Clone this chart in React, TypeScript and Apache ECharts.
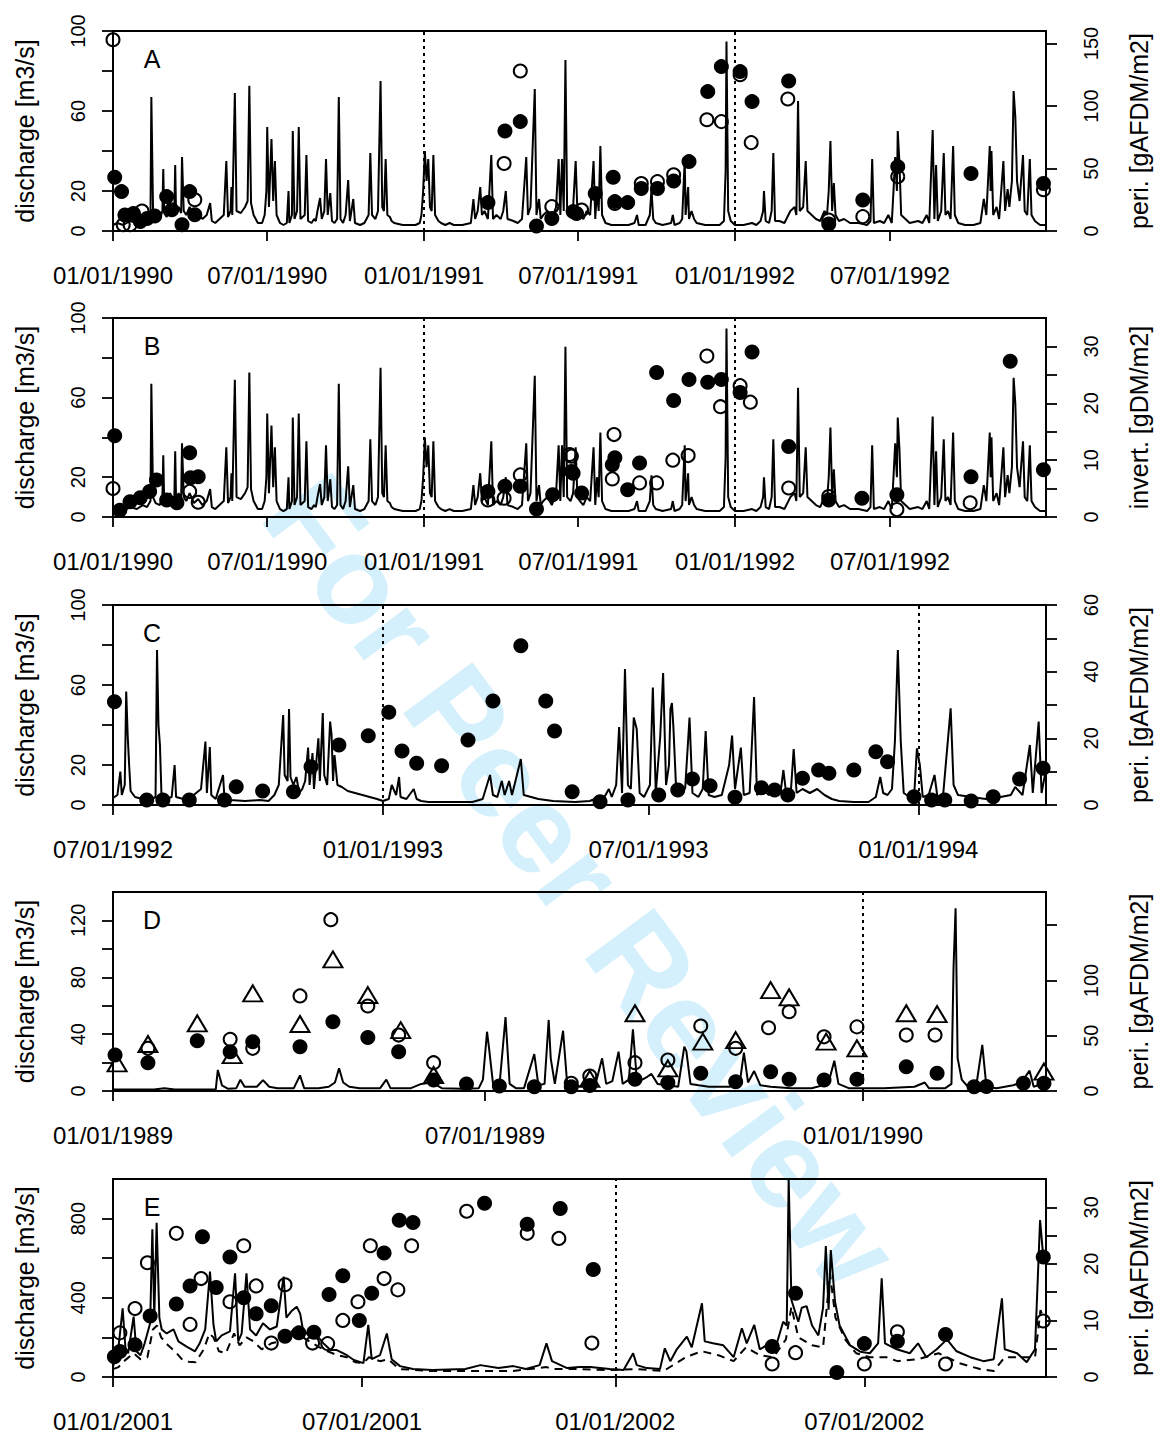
import React, { useEffect, useRef } from "react";
import * as echarts from "echarts";

const FONT = "'Liberation Sans', Arial, Helvetica, sans-serif";
const DAY = 86400000;

// ---------- periods & tick dates ----------
const START_AB = "1990-01-01";
const END_AB = "1992-12-31";
const START_C = "1992-07-01";
const END_C = "1994-03-29";
const START_D = "1989-01-01";
const END_D = "1990-03-31";
const START_E = "2001-01-01";
const END_E = "2002-11-10";

const ticksAB = ["1990-01-01", "1990-07-01", "1991-01-01", "1991-07-01", "1992-01-01", "1992-07-01"];
const ticksC = ["1992-07-01", "1993-01-01", "1993-07-01", "1994-01-01"];
const ticksD = ["1989-01-01", "1989-07-01", "1990-01-01"];
const ticksE = ["2001-01-01", "2001-07-01", "2002-01-01", "2002-07-01"];

const yearLinesAB = ["1991-01-01", "1992-01-01"];
const yearLinesC = ["1993-01-01", "1994-01-01"];
const yearLinesD = ["1990-01-01"];
const yearLinesE = ["2002-01-01"];

// ---------- discharge series: [day since period start, m3/s] ----------
const dischargeAB = [
  [0,3],[5,4],[12,3],[20,5],[28,4],[35,6],[40,5],[44,8],[45,67],[47,10],[50,7],[55,6],[58,10],[59,31],[60,9],[63,7],[67,12],[70,8],[72,10],[73,33],[74,9],[77,12],[80,9],[81,37],[83,10],[86,8],[90,12],[95,7],[100,9],[105,6],[110,8],[114,14],[116,5],[120,4],[125,6],[130,8],[133,35],[135,7],[138,10],[139,22],[140,8],[143,69],[145,10],[150,9],[155,12],[158,15],[160,72.6],[162,14],[165,8],[170,4],[175,4],[178,8],[180,20],[181,52],[183,12],[186,46],[188,15],[190,35],[192,8],[196,4],[200,3],[204,4],[206,20],[207,4],[210,8],[211,50],[213,6],[216,10],[218,52],[220,6],[225,8],[227,38],[229,5],[233,4],[236,6],[238,5],[240,10],[243,16.5],[245,6],[248,10],[250,36],[252,8],[255,19],[257,5],[260,4],[263,6],[265,67],[267,6],[270,4],[273,8],[276,25.5],[278,5],[282,16],[284,4],[290,3],[295,4],[300,8],[302,39],[304,8],[308,6],[311,10],[314,75],[316,12],[318,10],[320,36],[322,8],[325,7],[327,5],[330,4],[340,3],[350,3],[355,3],[360,4],[362,8],[364,20],[366,40],[368,25],[370,36],[372,12],[374,10],[376,38],[378,8],[382,5],[385,4],[390,3],[395,4],[400,3],[410,3],[420,4],[423,16],[425,6],[428,10],[431,22],[433,8],[436,10],[440,6],[444,38],[446,6],[450,8],[455,6],[458,10],[461,20],[463,6],[470,5],[475,4],[480,6],[485,37],[487,8],[490,12],[495,71],[497,8],[500,16],[502,6],[505,8],[510,10],[515,6],[520,12],[523,36],[525,8],[527,36],[529,10],[531,85.5],[533,10],[537,8],[540,12],[543,35],[545,10],[548,8],[552,6],[556,10],[560,8],[564,35],[566,6],[568,20],[570,10],[572,42.5],[574,8],[578,4],[585,3],[595,3],[605,3],[612,4],[615,8],[617,3],[625,3],[630,8],[632,21],[634,6],[637,4],[645,3],[655,4],[657,8],[659,3],[665,4],[668,6],[671,36],[672,8],[675,22],[676,6],[679,10],[682,6],[685,4],[695,3],[705,3],[712,3],[717,5],[719,30],[720,94.7],[722,10],[725,5],[730,3],[740,3],[750,4],[755,3],[760,5],[763,10],[764,20],[766,5],[770,4],[773,10],[775,39],[777,5],[782,5],[788,4],[795,10],[800,12],[802,8],[804,65],[806,10],[810,12],[813,35],[815,10],[820,8],[825,6],[830,5],[835,10],[838,8],[840,20],[842,45],[844,10],[846,24],[848,8],[852,5],[858,6],[865,4],[875,4],[885,3],[889,5],[891,36],[893,4],[900,5],[905,4],[910,8],[914,4],[916,20],[918,37],[920,20],[921,50],[923,34],[925,8],[930,6],[935,4],[945,5],[950,4],[955,8],[958,4],[962,50.5],[964,6],[966,33],[968,5],[972,10],[975,39],[977,8],[980,10],[983,6],[986,42.5],[988,8],[992,4],[1000,3],[1010,3],[1018,4],[1022,16],[1025,8],[1029,42.5],[1030,20],[1031,40],[1033,8],[1037,12],[1040,6],[1045,35],[1047,10],[1050,21],[1052,12],[1055,25],[1057,70],[1059,57],[1061,25],[1064,15],[1068,38],[1070,10],[1073,8],[1076,36],[1078,8],[1082,5],[1088,3],[1095,3]
];

const dischargeC = [
  [0,3.5],[3,5],[5,16.7],[6,5],[8,10],[9,56.7],[10,35],[11,20],[12,7],[15,4],[20,3],[25,2.5],[29,4],[30,77.5],[31,40],[32,30],[33,6],[36,3],[40,4],[42,20],[43,4],[48,3],[55,5],[60,8],[63,31.7],[64,6],[66,29],[67,5],[70,3],[75,15],[76,3],[80,2.5],[90,2],[100,2.5],[106,2],[110,5],[113,10],[116,45],[117,15],[119,12],[120,48],[121,14],[123,10],[125,14],[127,6],[129,8],[131,12],[133,28.7],[134,10],[136,26],[137,8],[140,33.3],[141,12],[143,46],[144,15],[146,10],[148,41.7],[149,35],[150,12],[151,25],[153,10],[156,9],[160,7],[165,6],[170,5],[175,4],[180,3],[184,2],[188,3],[190,10],[193,5],[195,14],[196,4],[200,3],[205,8],[207,3],[210,2],[215,1.5],[230,1.5],[245,1.5],[252,3],[257,15],[259,5],[262,4],[265,12],[267,5],[270,12],[272,5],[278,23],[280,5],[285,4],[290,3],[300,2],[315,1.5],[325,2],[330,3.5],[335,4],[338,8],[340,4],[343,10],[345,39],[347,6],[349,68],[351,10],[353,8],[355,43.7],[357,38],[359,6],[362,4],[366,10],[368,58.7],[370,6],[373,34],[375,66],[377,10],[379,20],[380,48],[381,51],[382,39],[384,6],[387,10],[390,8],[393,43.7],[395,6],[399,4],[402,8],[404,37],[406,5],[410,4],[415,5],[420,20],[422,34.7],[424,8],[428,28.7],[430,5],[434,6],[437,54],[439,5],[443,8],[447,5],[452,8],[455,6],[457,17.5],[459,5],[462,6],[464,28],[466,6],[470,8],[475,6],[480,8],[485,5],[490,3],[495,2],[505,1.5],[515,1.5],[520,4],[523,14],[525,6],[528,5],[531,8],[533,31.7],[535,77.5],[537,31.7],[539,6],[543,4],[546,3],[548,28.3],[550,20],[552,4],[556,5],[560,15],[562,4],[566,6],[571,48.3],[573,10],[576,5],[585,4],[595,3],[605,4],[612,5],[615,9],[620,5],[625,30],[627,6],[631,41.7],[633,6],[636,18]
];

const dischargeD = [
  [0,1],[20,1],[25,2],[30,1],[50,1],[51,14.8],[53,4],[56,1.5],[60,2],[62,8],[64,3],[70,3],[73,7.7],[76,3],[80,2],[88,2],[91,11],[93,2],[100,2],[105,3],[108,6],[110,16],[112,6],[115,3],[120,2],[130,2],[133,8],[135,2],[145,2],[150,5],[155,6],[160,2],[170,1.5],[178,2],[180,8],[182,41.7],[183,30],[185,4],[188,3],[191,52],[193,5],[196,2],[200,2],[205,26],[207,4],[210,5],[212,50],[213,23],[215,5],[219,42.4],[221,5],[225,3],[230,4],[235,6],[238,23],[240,5],[243,7],[246,27.7],[248,5],[251,8],[253,43.4],[255,6],[260,10],[262,12],[265,5],[270,4],[275,3],[278,31.2],[279,28],[281,5],[285,4],[290,3],[300,3],[305,6],[307,27],[309,6],[312,14],[315,4],[320,3],[330,2],[340,2],[348,5],[351,21.3],[353,5],[358,2],[365,2],[375,2],[390,3],[395,6],[397,2],[405,2],[408,5],[409,86.4],[410,128.6],[411,23],[413,8],[416,3],[420,3],[423,32.4],[425,3],[430,2],[438,4],[442,6],[446,14.3],[448,3],[452,5],[454,7]
];

const dischargeE = [
  [0,52],[4,150],[7,347],[9,150],[11,120],[15,305],[17,130],[20,110],[23,170],[27,271],[28.6,746],[30,300],[31.7,779],[33.7,300],[35.4,240],[39,220],[44,240],[47.5,180],[53.5,153],[59.6,130],[63,170],[67,240],[70.5,532],[73,265],[75,180],[79,210],[85,230],[88.7,524],[91,180],[93.5,220],[97,524],[99.6,240],[104,210],[109,271],[114,240],[119,255],[124,507],[126,300],[130,335],[133.5,355],[136,320],[138,240],[143,205],[148,210],[153,170],[158,136],[162.6,136],[170,110],[175,86],[182,70],[185.5,263],[188,90],[194,110],[199,220],[202.5,90],[208.6,55],[218,40],[232,35],[256,40],[267,60],[280,45],[291,55],[300,40],[310,60],[315,170],[319,80],[330,45],[339,50],[346.7,50],[361,40],[371,35],[378,120],[380.6,60],[388,45],[397.5,40],[401,145],[405,80],[409.7,140],[417,204],[420.6,150],[428,372],[430,180],[436,170],[443.5,160],[451,100],[457,246],[460.5,170],[466,263],[470,140],[477.5,170],[482,160],[487,279],[489.6,260],[491,995],[492,700],[493,389],[498,279],[500.5,350],[504,358],[508,260],[512.6,210],[516,350],[518,662],[520,340],[521.6,641],[524.7,380],[528,260],[535.6,160],[543,128],[550,120],[556,170],[558.6,498],[561,170],[569.5,140],[579,120],[585,170],[591,100],[598.6,140],[606,190],[613,130],[623,100],[632.5,80],[640,90],[646,397],[648,140],[657,120],[664,75],[670,140],[673.7,793],[676,608]
];

const dischargeE2 = [
  [0,40],[4,50],[8,80],[15,120],[20,90],[25,100],[29,240],[32,260],[35,200],[40,160],[45,130],[50,90],[55,77],[60,75],[66,140],[70,220],[73,200],[77,130],[82,120],[88,220],[92,160],[97,200],[102,180],[108,140],[115,170],[121,180],[126,230],[133,230],[138,200],[145,170],[150,150],[156,130],[163,110],[170,100],[176,75],[182,70],[186,100],[194,80],[200,90],[208,40],[215,38],[230,30],[260,30],[290,30],[315,50],[320,40],[340,40],[360,35],[380,40],[400,30],[417,103],[428,130],[440,110],[451,80],[460,150],[470,110],[480,100],[489,190],[493,355],[498,200],[508,160],[516,150],[521,524],[525,300],[532,190],[540,120],[550,100],[562,100],[570,80],[585,90],[600,120],[615,70],[630,40],[640,30],[648,100],[660,100],[670,100],[674,338],[676,300]
];

// ---------- biomass samples: [day since period start, value] ----------
const periA_filled = [[2,43],[10,31.5],[14,12.8],[24,14],[32,7.5],[40,10],[49,12],[63,27.5],[69,17],[81,5],[90,31.5],[96,13],[440,22.7],[460,80],[478,87.5],[497,4],[515,10],[540,15.5],[544,14],[566,30],[587,43],[589,23.5],[604,22.7],[620,34],[639,34],[658,40],[676,55.5],[698,111.5],[714,131.5],[736,127.5],[750,103.5],[793,120],[840,5.6],[880,24.8],[921,51.5],[1007,46],[1092,38]];
const periA_open = [[0,153],[12,5],[20,5],[34,16],[96,25],[459,54],[478,128],[515,19.5],[550,16.8],[589,22],[620,38],[639,39.5],[658,45],[697,89],[714,87.5],[736,125],[749,70.7],[792,105.6],[840,8.8],[880,11.5],[921,43.5],[1092,33]];

const invB_filled = [[2,14.3],[8,1.2],[20,2.7],[32,3.4],[43,4.5],[51,6.5],[63,3],[75,2.5],[90,11.3],[91,6.9],[100,7.1],[440,4.5],[460,5.4],[478,5.4],[497,1.4],[516,3.9],[538,8],[540,7.7],[550,4.2],[586,9.2],[589,10.4],[604,4.8],[618,9.5],[638,25.4],[658,20.5],[676,24.2],[698,23.7],[714,24.2],[736,21.9],[750,29],[793,12.4],[840,3],[879,3.3],[920,3.9],[1007,7.1],[1053,27.4],[1092,8.3]];
const invB_open = [[0,5],[90,4.5],[100,2.6],[440,3],[459,3.3],[478,7.4],[536,11],[538,10.7],[586,6.7],[588,14.5],[618,6],[638,6],[657,10],[675,10.8],[697,28.3],[713,19.4],[736,23.1],[748,20.2],[793,5.1],[840,3.6],[920,1.3],[1006,2.5]];

const periC_filled = [[1,31],[23,1.5],[34,1.5],[52,1.5],[76,1.5],[84,5.5],[102,4.2],[123,4],[135,11.5],[154,18],[174,20.8],[188,27.8],[197,16.2],[207,12.5],[224,11.8],[242,19.5],[259,31.2],[278,47.8],[295,31.2],[301,22.2],[313,4],[332,1],[351,1.5],[372,3],[385,4.5],[395,7.8],[407,5.8],[424,2.3],[442,5.2],[451,4.5],[460,3],[470,8],[481,10.5],[488,9.5],[505,10.5],[520,16],[528,13],[546,2.5],[558,1.5],[567,1.5],[585,1.2],[600,2.5],[618,7.8],[634,11]];

const periD_filled = [[1,32.5],[17,25.6],[41,45.5],[57,35.5],[68,44.6],[91,40],[107,62.7],[124,48.5],[139,35.5],[156,10],[172,6.3],[188,4.5],[205,3.9],[223,3.9],[232,5],[254,10.6],[270,7.5],[286,16],[303,8.4],[320,17.5],[329,10.6],[346,10],[362,10.6],[386,22],[401,16],[419,3.9],[425,4],[443,7],[453,7]];
const periD_open = [[17,38.6],[57,46.7],[68,38.6],[91,86],[106,155],[124,76.9],[139,50.6],[156,25.6],[223,7],[232,13.6],[254,25.6],[270,28],[286,58.8],[303,38.6],[319,57.2],[329,71.7],[346,49],[362,58],[386,50.6],[400,50.6]];
const periD_tri = [[2,25],[17,42.5],[41,61.2],[58,32.5],[68,88.3],[91,60.6],[107,119],[124,86.8],[140,55],[156,14.5],[232,11],[254,70.3],[270,20.5],[287,44.6],[303,46],[320,91.3],[329,84.7],[347,44.6],[362,38.6],[386,70.3],[401,69.6],[453,17.5]];

const periE_filled = [[1,3.6],[5,4.5],[16,5.7],[27,10.8],[46,12.9],[56,16.1],[65,24.8],[75,15.8],[85,21.2],[95,14],[104,11.2],[115,12.6],[125,7.2],[135,7.8],[146,7.9],[157,14.6],[167,17.9],[179,10],[188,14.8],[197,21.9],[208,27.7],[218,27.3],[270,30.7],[301,27],[325,29.8],[349,19],[479,5.4],[496,14.8],[526,0.8],[546,5.9],[570,6.3],[605,7.5],[676,21.2]];
const periE_open = [[5,7.8],[16,12.1],[25,20.2],[46,25.4],[56,9.3],[64,17.4],[85,13.3],[95,23.2],[104,16.1],[115,6],[125,16.3],[145,6],[156,5.9],[167,10],[178,13.3],[187,23.2],[197,17.4],[207,15.4],[217,23.2],[257,29.3],[301,25.4],[324,24.5],[348,6],[479,2.3],[496,4.3],[546,2.3],[570,8],[605,2.3],[676,9.9]];

// ---------- helpers ----------
const ts = (d: string) => Date.parse(d + "T00:00:00Z");
const toXY = (start: string, pairs: number[][]) => pairs.map(([d, v]) => [ts(start) + d * DAY, v]);
const pad = (n: number) => String(n).padStart(2, "0");
const fmtDate = (v: number) => {
  const d = new Date(v);
  return `${pad(d.getUTCMonth() + 1)}/${pad(d.getUTCDate())}/${d.getUTCFullYear()}`;
};

type Panel = {
  letter: string; top: number; height: number; start: string; end: string;
  ticks: string[]; yearLines: string[];
  qMax: number; qTicks: number[]; qLabels: number[];
  bMax: number; bTicks: number[]; bLabels: number[]; bName: string;
  lines: { data: number[][]; dashed: boolean }[];
  filled: number[][]; open: number[][]; tri?: number[][];
};

const panels: Panel[] = [
  { letter: "A", top: 31, height: 200, start: START_AB, end: END_AB, ticks: ticksAB, yearLines: yearLinesAB,
    qMax: 100, qTicks: [0, 20, 40, 60, 80, 100], qLabels: [0, 20, 60, 100],
    bMax: 160, bTicks: [0, 50, 100, 150], bLabels: [0, 50, 100, 150], bName: "peri. [gAFDM/m2]",
    lines: [{ data: dischargeAB, dashed: false }], filled: periA_filled, open: periA_open },
  { letter: "B", top: 318, height: 199, start: START_AB, end: END_AB, ticks: ticksAB, yearLines: yearLinesAB,
    qMax: 100, qTicks: [0, 20, 40, 60, 80, 100], qLabels: [0, 20, 60, 100],
    bMax: 35, bTicks: [0, 5, 10, 15, 20, 25, 30], bLabels: [0, 10, 20, 30], bName: "invert. [gDM/m2]",
    lines: [{ data: dischargeAB, dashed: false }], filled: invB_filled, open: invB_open },
  { letter: "C", top: 605, height: 200, start: START_C, end: END_C, ticks: ticksC, yearLines: yearLinesC,
    qMax: 100, qTicks: [0, 20, 40, 60, 80, 100], qLabels: [0, 20, 60, 100],
    bMax: 60, bTicks: [0, 10, 20, 30, 40, 50, 60], bLabels: [0, 20, 40, 60], bName: "peri. [gAFDM/m2]",
    lines: [{ data: dischargeC, dashed: false }], filled: periC_filled, open: [] },
  { letter: "D", top: 892, height: 199, start: START_D, end: END_D, ticks: ticksD, yearLines: yearLinesD,
    qMax: 140, qTicks: [0, 20, 40, 60, 80, 100, 120], qLabels: [0, 40, 80, 120],
    bMax: 180, bTicks: [0, 50, 100, 150], bLabels: [0, 50, 100], bName: "peri. [gAFDM/m2]",
    lines: [{ data: dischargeD, dashed: false }], filled: periD_filled, open: periD_open, tri: periD_tri },
  { letter: "E", top: 1179, height: 198, start: START_E, end: END_E, ticks: ticksE, yearLines: yearLinesE,
    qMax: 1000, qTicks: [0, 200, 400, 600, 800], qLabels: [0, 400, 800],
    bMax: 35, bTicks: [0, 5, 10, 15, 20, 25, 30], bLabels: [0, 10, 20, 30], bName: "peri. [gAFDM/m2]",
    lines: [{ data: dischargeE, dashed: false }, { data: dischargeE2, dashed: true }], filled: periE_filled, open: periE_open },
];

const BLACK = "#000";
const tickStyle = { color: BLACK, width: 1.8 };

function buildOption() {
  const grid: any[] = [];
  const xAxis: any[] = [];
  const yAxis: any[] = [];
  const series: any[] = [];
  const graphic: any[] = [];

  panels.forEach((p, i) => {
    grid.push({
      left: 113, right: 111, top: p.top, height: p.height,
      show: true, borderColor: BLACK, borderWidth: 2, backgroundColor: "rgba(0,0,0,0)",
      containLabel: false, outerBoundsMode: "none",
    });
    const tickTs = p.ticks.map(ts);
    xAxis.push({
      type: "value", gridIndex: i, min: ts(p.start), max: ts(p.end),
      axisLine: { show: false }, splitLine: { show: false },
      axisTick: { show: true, length: 10, lineStyle: tickStyle, customValues: tickTs },
      axisLabel: {
        customValues: tickTs, formatter: (v: number) => fmtDate(v),
        fontSize: 24, color: BLACK, fontFamily: FONT, margin: 32, hideOverlap: false,
      },
    });
    yAxis.push({
      type: "value", gridIndex: i, position: "left", min: 0, max: p.qMax,
      axisLine: { show: false }, splitLine: { show: false },
      axisTick: { show: true, length: 11, lineStyle: tickStyle, customValues: p.qTicks },
      axisLabel: { customValues: p.qLabels, rotate: 90, fontSize: 20, color: BLACK, fontFamily: FONT, margin: 25 },
      name: "discharge [m3/s]", nameLocation: "middle", nameRotate: 90, nameGap: 76,
      nameTextStyle: { fontSize: 25, color: BLACK, fontFamily: FONT },
    });
    yAxis.push({
      type: "value", gridIndex: i, position: "right", min: 0, max: p.bMax,
      axisLine: { show: false }, splitLine: { show: false },
      axisTick: { show: true, length: 11, lineStyle: tickStyle, customValues: p.bTicks },
      axisLabel: { customValues: p.bLabels, rotate: 90, fontSize: 20, color: BLACK, fontFamily: FONT, margin: 35 },
      name: p.bName, nameLocation: "middle", nameRotate: 90, nameGap: 80,
      nameTextStyle: { fontSize: 25, color: BLACK, fontFamily: FONT },
    });

    p.lines.forEach((ln, k) => {
      series.push({
        type: "line", xAxisIndex: i, yAxisIndex: 2 * i, data: toXY(p.start, ln.data),
        showSymbol: false, symbol: "none", silent: true, z: 3,
        lineStyle: { color: BLACK, width: 2, opacity: 1, type: ln.dashed ? [8, 6] : "solid" },
        markLine: k === 0 ? {
          symbol: ["none", "none"], silent: true, label: { show: false },
          lineStyle: { color: BLACK, width: 2, type: [3, 4] },
          data: p.yearLines.map((d) => ({ xAxis: ts(d) })),
        } : undefined,
      });
    });
    series.push({
      type: "scatter", xAxisIndex: i, yAxisIndex: 2 * i + 1, data: toXY(p.start, p.filled),
      symbol: "circle", symbolSize: 15, itemStyle: { color: BLACK, opacity: 1 }, z: 4, silent: true,
    });
    if (p.open.length) {
      series.push({
        type: "scatter", xAxisIndex: i, yAxisIndex: 2 * i + 1, data: toXY(p.start, p.open),
        symbol: "circle", symbolSize: 13, z: 5, silent: true,
        itemStyle: { color: "rgba(0,0,0,0)", borderColor: BLACK, borderWidth: 2, opacity: 1 },
      });
    }
    if (p.tri) {
      series.push({
        type: "scatter", xAxisIndex: i, yAxisIndex: 2 * i + 1, data: toXY(p.start, p.tri),
        symbol: "triangle", symbolSize: [19, 16], z: 5, silent: true,
        itemStyle: { color: "rgba(0,0,0,0)", borderColor: BLACK, borderWidth: 2, opacity: 1 },
      });
    }
    graphic.push({
      type: "text", x: 152, y: p.top + 28, z: 10, silent: true,
      style: { text: p.letter, fontSize: 25, fontFamily: FONT, fill: BLACK, align: "center", verticalAlign: "middle" },
    });
  });

  graphic.push({
    type: "text", x: 582, y: 882, rotation: -0.934, z: -10, silent: true,
    style: { text: "For Peer Review", fontSize: 125, fontWeight: "bold", fontFamily: FONT, fill: "#d3f0fc", align: "center", verticalAlign: "middle" },
  });

  return { animation: false, backgroundColor: "#fff", grid, xAxis, yAxis, series, graphic };
}

export default function App() {
  const ref = useRef<HTMLDivElement>(null);
  useEffect(() => {
    const chart = echarts.init(ref.current!, null, { renderer: "svg" });
    chart.setOption(buildOption());
    return () => chart.dispose();
  }, []);
  return (
    <div
      ref={ref}
      style={{ position: "fixed", left: 0, top: 0, width: 1157, height: 1439, background: "#fff" }}
    />
  );
}
